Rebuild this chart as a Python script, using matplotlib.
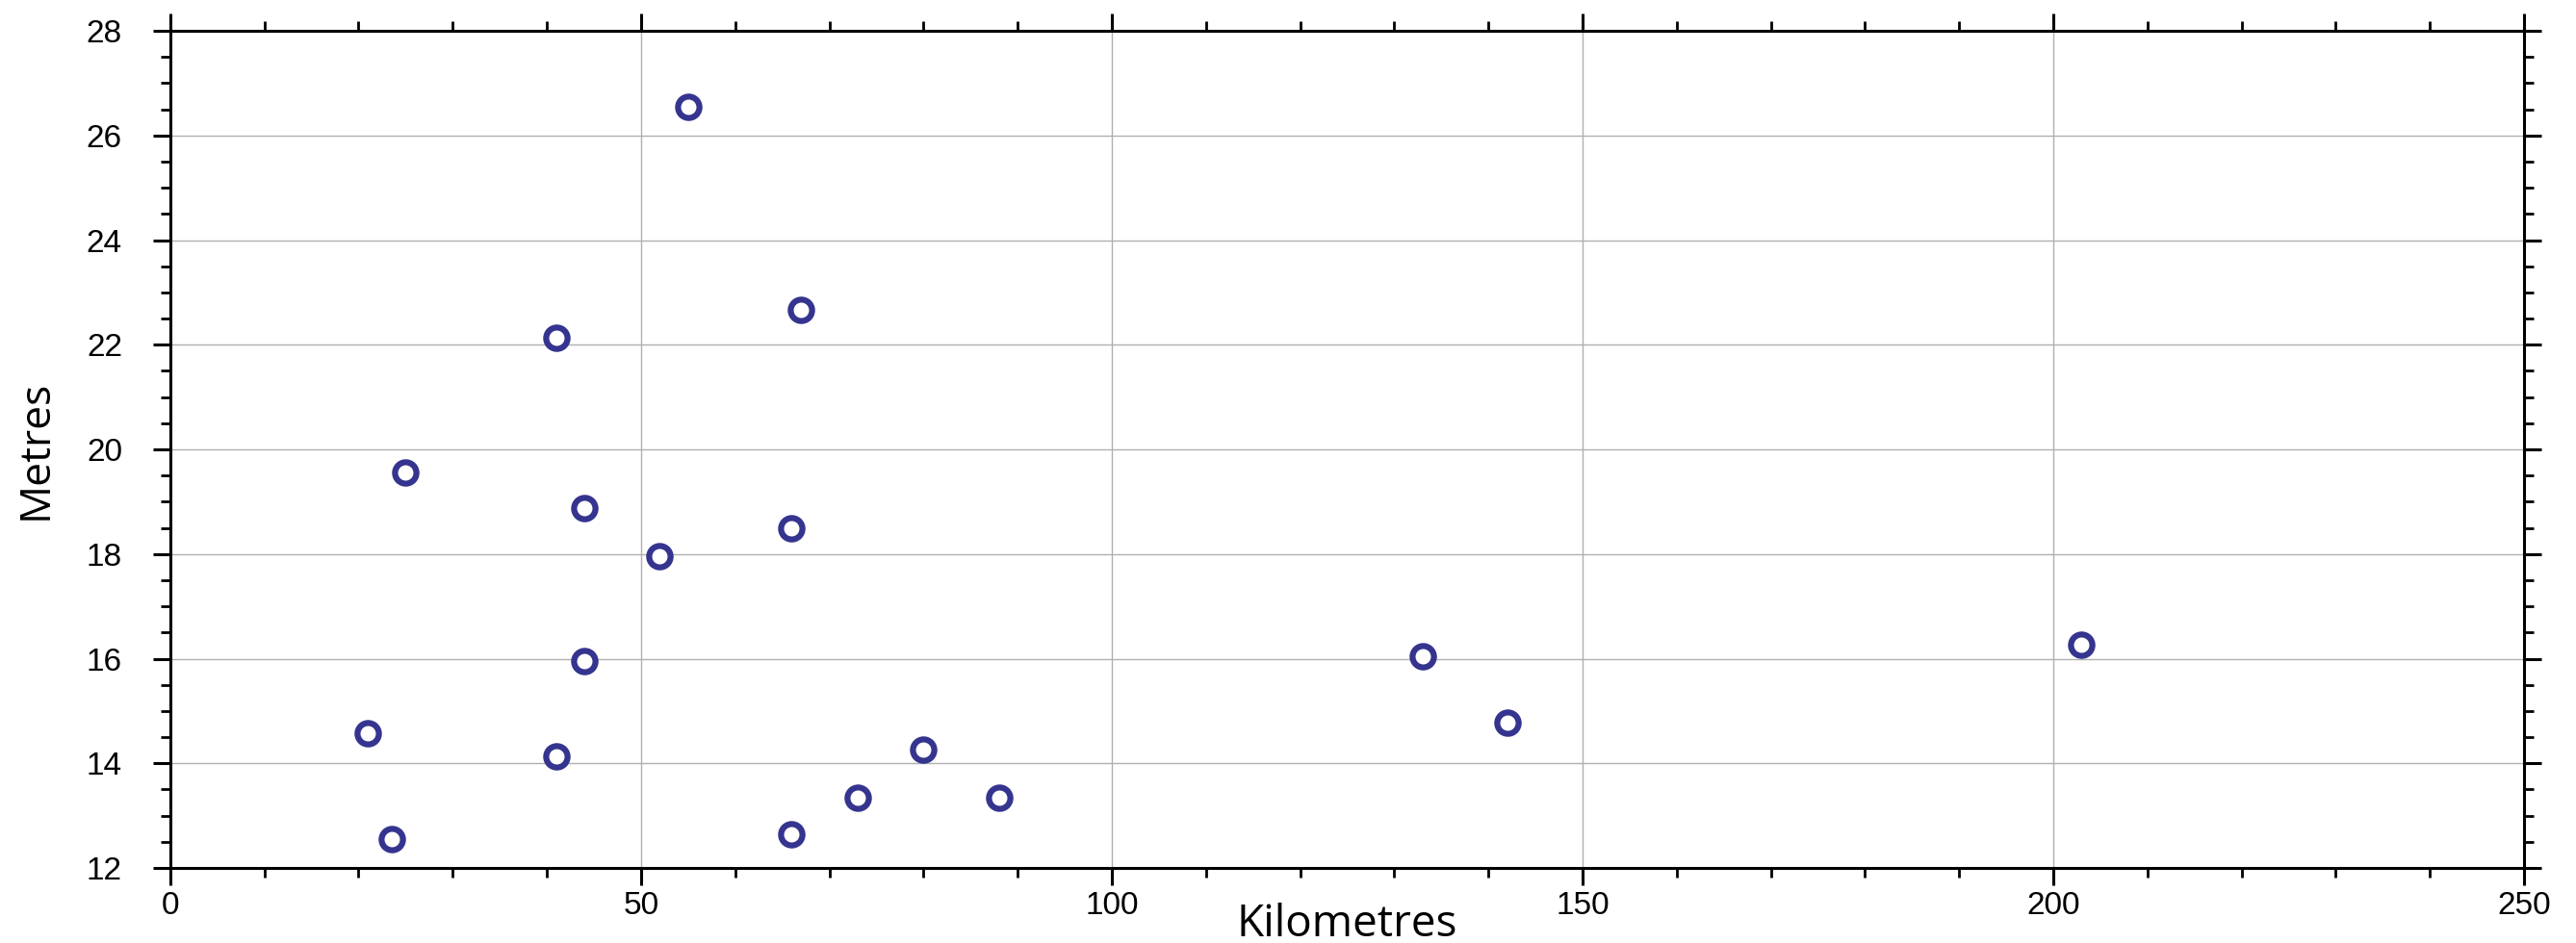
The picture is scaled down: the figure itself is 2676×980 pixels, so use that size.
import matplotlib.pyplot as plt
from matplotlib.ticker import MultipleLocator

# distance along route (km) and height (m)
km = [55, 67, 41, 25, 44, 66, 52, 44, 133, 203, 142, 21, 41, 80, 73, 88, 66, 23.5]
metres = [26.55, 22.67, 22.13, 19.55, 18.87, 18.5, 17.96, 15.95, 16.05, 16.27,
          14.78, 14.57, 14.13, 14.26, 13.35, 13.35, 12.65, 12.55]

xlim = (0, 250)
ylim = (12, 28)

fig = plt.figure(figsize=(26.76, 9.8), dpi=100)
ax = fig.add_axes([0.0661, 0.0796, 0.9137, 0.8877])

ax.plot(km, metres, linestyle='none', marker='o', markersize=16,
        markeredgewidth=4.5, markeredgecolor='#35348f', markerfacecolor='white',
        zorder=3, clip_on=False)

ax.set_xlim(*xlim)
ax.set_ylim(*ylim)
ax.xaxis.set_major_locator(MultipleLocator(50))
ax.xaxis.set_minor_locator(MultipleLocator(10))
ax.yaxis.set_major_locator(MultipleLocator(2))
ax.yaxis.set_minor_locator(MultipleLocator(0.5))

ax.grid(True, which='major', color='#b0b0b0', linewidth=1.0)
ax.set_axisbelow(True)

for s in ax.spines.values():
    s.set_linewidth(2.2)

ax.tick_params(which='both', direction='out', top=True, right=True,
               labeltop=False, labelright=False, colors='black',
               labelsize=24, labelfontfamily='Liberation Sans')
ax.tick_params(which='major', length=13, width=2.2)
ax.tick_params(which='minor', length=7, width=2.0)
ax.tick_params(axis='x', which='major', pad=4)
ax.tick_params(axis='y', which='major', pad=23)

ax.set_xlabel('Kilometres', fontsize=33, family='Open Sans')
ax.set_ylabel('Metres', fontsize=32, family='Open Sans')
ax.xaxis.label.set_va('center')
ax.yaxis.label.set_va('center')
ax.xaxis.set_label_coords(0.5, -0.068)
ax.yaxis.set_label_coords(-0.0569, 0.5)

fig.savefig('out.png', dpi=100)
